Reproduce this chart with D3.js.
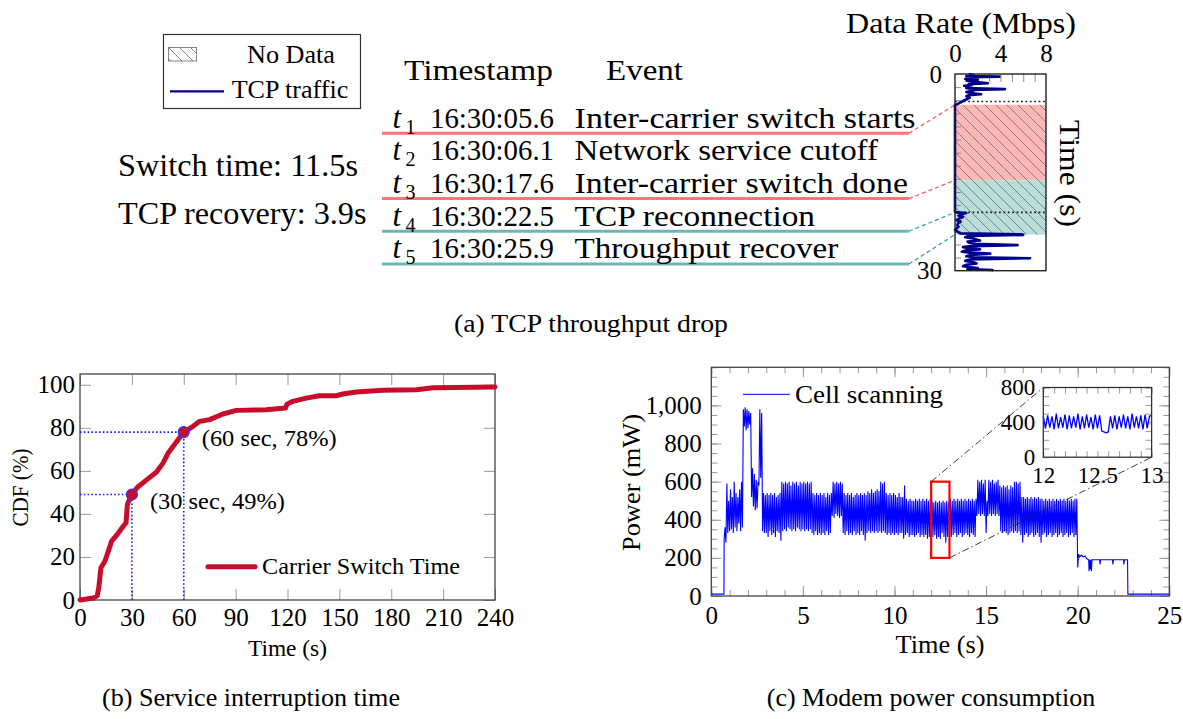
<!DOCTYPE html>
<html>
<head>
<meta charset="utf-8">
<title>Inter-carrier switch measurements</title>
<script src="https://cdn.jsdelivr.net/npm/d3@7/dist/d3.min.js"></script>
<style>
  html, body { margin: 0; padding: 0; background: #ffffff; }
  svg { display: block; }
  text { font-family: "Liberation Serif", "Times New Roman", Times, serif; fill: #000; }
</style>
</head>
<body>
<svg id="figure" width="1183" height="719" viewBox="0 0 1183 719"></svg>
<script>
// ================= (a) TCP throughput drop =================
const eventIndex   = ["1", "2", "3", "4", "5"];
const eventStamps  = ["16:30:05.6", "16:30:06.1", "16:30:17.6", "16:30:22.5", "16:30:25.9"];
const eventSeconds = [5.6, 6.1, 17.6, 22.5, 25.9];          // seconds after 16:30:00
const eventNames   = ["Inter-carrier switch starts", "Network service cutoff",
                      "Inter-carrier switch done", "TCP reconnection", "Throughput recover"];
const summaryLabels = ["Switch time: 11.5s", "TCP recovery: 3.9s"];
const traceOrigin = 1.4;                                      // trace clock starts at 16:30:01.4

// TCP data rate trace: time (s on the trace clock) and rate (Mbps)
const tcpTime = [0.0, 0.15, 0.3, 0.4, 0.5, 0.6, 0.75, 0.9, 1.0, 1.2,
                 1.4, 1.55, 1.7, 1.8, 2.0, 2.15, 2.3, 2.45, 2.6, 2.75,
                 2.9, 3.1, 3.25, 3.4, 3.6, 3.8, 4.0, 4.2, 4.4, 4.6,
                 4.7, 21.0, 21.1, 21.2, 21.4, 21.6, 21.8, 22.0, 22.3, 22.5,
                 22.7, 23.0, 23.3, 23.6, 23.8, 24.0, 24.3, 24.45, 24.55, 24.7,
                 24.9, 25.1, 25.4, 25.55, 25.7, 25.9, 26.1, 26.25, 26.4, 26.6,
                 26.75, 26.9, 27.1, 27.25, 27.4, 27.6, 27.8, 27.95, 28.1, 28.3,
                 28.5, 28.7, 28.9, 29.1, 29.3, 29.45, 29.6, 29.75, 29.9, 30.0];
const tcpRate = [1.2, 1.6, 1.0, 3.9, 1.2, 1.4, 0.9, 2.0, 1.0, 1.7,
                 2.9, 1.2, 1.5, 0.8, 1.3, 1.0, 4.4, 1.3, 1.6, 1.0,
                 1.4, 2.3, 1.2, 1.0, 1.3, 1.1, 0.8, 0.65, 0.4, 0.2,
                 0.0, 0.0, 0.15, 1.0, 0.6, 0.3, 0.7, 0.4, 0.15, 0.5,
                 0.3, 0.2, 0.3, 0.1, 0.0, 0.2, 0.45, 5.9, 6.0, 1.2,
                 0.9, 1.6, 2.2, 1.1, 1.2, 1.8, 5.5, 1.4, 0.7, 1.5,
                 2.2, 1.0, 0.6, 1.3, 3.1, 1.4, 1.0, 1.7, 6.6, 1.3,
                 0.9, 1.6, 1.9, 1.0, 0.7, 1.2, 2.0, 1.1, 3.3, 3.2];
const rateTicks = [0, 4, 8];
const traceTimeTicks = [0, 30];

// ================= (b) Service interruption time =================
const cdfTime    = [0, 7.7, 10, 10.9, 12.1, 14.4, 16.4, 18.3, 21.2, 25.4,
                    26.6, 27.4, 29, 30, 33.1, 38.5, 44.3, 48.1, 51, 54.9,
                    60, 65.4, 69.2, 75, 82.7, 90.4, 107.7, 118.9, 119.7, 123.1,
                    130.8, 138.5, 148.2, 152, 159.8, 175.2, 194.5, 204.1, 240];
const cdfPercent = [0, 0.9, 2, 5.9, 15, 18, 22.7, 27.4, 30.1, 34.7,
                    35.8, 44.3, 47.7, 49, 52.3, 55.8, 59.5, 63.7, 68.3, 72.5,
                    78, 80.7, 83, 83.8, 86.4, 88.1, 88.4, 89.2, 91, 92.3,
                    93.8, 94.9, 94.9, 95.7, 96.6, 97.4, 97.7, 98.6, 99];
const markTime    = [30, 60];
const markPercent = [49, 78];
const markLabels  = ["(30 sec, 49%)", "(60 sec, 78%)"];
const cdfXTicks = [0, 30, 60, 90, 120, 150, 180, 210, 240];
const cdfYTicks = [0, 20, 40, 60, 80, 100];

// ================= (c) Modem power consumption =================
const powerLeadTime  = [0, 0.69];
const powerLeadValue = [10, 10];
const scanStart = 0.70, scanStep = 0.05;   // cell-scanning samples, one every 50 ms
const scanPower = [
  300, 360, 280, 590, 330, 500,
  340, 560, 350, 520, 330, 600, 360, 540, 340, 520, 380, 560, 340, 600, 360, 980, 890, 990, 870, 980,
  880, 970, 900, 960, 520, 670, 470, 640, 450, 610, 460, 600, 580, 980, 620, 960, 340, 540, 330, 530,
  330, 540, 310, 530, 340, 540, 320, 530, 330, 540, 310, 520, 340, 530, 330, 540, 290, 600, 340, 590,
  350, 600, 340, 590, 360, 600, 350, 580, 340, 600, 350, 590, 340, 600, 360, 580, 350, 600, 340, 590,
  350, 600, 340, 590, 350, 600, 340, 590, 350, 600, 330, 540, 320, 530, 340, 540, 320, 530, 330, 540,
  320, 530, 330, 540, 320, 520, 340, 540, 320, 530, 330, 540, 420, 600, 410, 590, 430, 600, 420, 590,
  410, 600, 420, 590, 330, 540, 320, 530, 340, 540, 320, 530, 330, 540, 320, 520, 340, 530, 320, 540,
  330, 530, 320, 540, 340, 530, 320, 540, 290, 530, 330, 550, 340, 540, 330, 560, 340, 540, 330, 550,
  340, 560, 330, 550, 340, 600, 330, 590, 340, 600, 330, 540, 320, 530, 330, 540, 320, 530, 330, 540,
  320, 530, 330, 520, 320, 540, 330, 520, 330, 520, 300, 580, 320, 510, 330, 500, 310, 510, 320, 500,
  320, 500, 310, 510, 320, 500, 330, 510, 310, 500, 320, 510, 310, 500, 320, 510, 300, 500, 310, 510,
  300, 500, 310, 490, 320, 500, 300, 490, 310, 500, 300, 490, 330, 500, 310, 490, 280, 500, 310, 490,
  320, 510, 310, 500, 320, 510, 330, 500, 310, 510, 320, 500, 330, 510, 310, 500, 320, 510, 330, 500,
  320, 510, 310, 500, 330, 510, 320, 500, 310, 510, 420, 610, 430, 600, 420, 610, 430, 590, 420, 610,
  330, 500, 420, 610, 430, 600, 420, 610, 430, 590, 420, 600, 430, 610, 420, 580, 340, 570, 330, 580,
  340, 570, 330, 580, 320, 560, 330, 580, 340, 570, 330, 600, 340, 600, 330, 590, 340, 600, 320, 520,
  280, 520, 320, 510, 330, 520, 310, 510, 320, 520, 330, 510, 310, 520, 320, 510, 330, 520, 310, 510,
  280, 510, 320, 500, 330, 510, 310, 500, 320, 510, 330, 500, 310, 510, 320, 500, 330, 510, 310, 500,
  320, 510, 330, 500, 310, 510, 320, 500, 330, 510, 310, 500, 320, 510, 330, 500, 310, 510, 320, 510
];
const powerTailTime  = [20.00, 20.05, 20.10, 20.20, 20.30, 20.40, 20.50, 20.60, 20.62, 20.65,
                        20.68, 20.72, 20.75, 20.78, 21.20, 21.22, 21.25, 21.90, 21.92, 21.95,
                        22.50, 22.52, 22.55, 22.72, 22.74, 25.00];
const powerTailValue = [150, 220, 205, 215, 205, 210, 195, 190, 130, 190,
                        140, 190, 130, 190, 190, 165, 190, 190, 165, 190,
                        190, 165, 190, 190, 10, 10];
const zoomStart = 12, zoomStep = 0.02;     // detail window 12 s - 13 s, one sample every 20 ms
const zoomPower = [470, 330, 480, 340, 470, 320, 500, 330, 460, 340,
                   490, 320, 480, 330, 470, 340, 500, 320, 470, 330,
                   490, 340, 460, 320, 490, 330, 480, 300, 290, 280,
                   290, 470, 330, 480, 320, 470, 340, 490, 330, 470,
                   320, 500, 340, 470, 330, 480, 320, 490, 330, 470, 480];
const powerXTicks = [0, 5, 10, 15, 20, 25];
const powerYTicks = [0, 200, 400, 600, 800, 1000];
const zoomXTicks = [12, 12.5, 13];
const zoomYTicks = [0, 400, 800];
const zoomBox = {t0: 12, t1: 13, p0: 200, p1: 600};

// ================= helpers =================
const svg = d3.select("#figure");
const defs = svg.append("defs");

const hatch = defs.append("pattern")
  .attr("id", "hatch").attr("patternUnits", "userSpaceOnUse")
  .attr("width", 11).attr("height", 11);
hatch.append("path").attr("d", "M-2,-2L13,13")
  .attr("stroke", "#777").attr("stroke-width", 0.9).attr("fill", "none");

function label(parent, str, x, y, o = {}) {
  const t = parent.append("text").attr("x", x).attr("y", y)
    .attr("font-size", o.size || 24).text(str);
  if (o.anchor) t.attr("text-anchor", o.anchor);
  if (o.width) t.attr("textLength", o.width).attr("lengthAdjust", "spacingAndGlyphs");
  if (o.rotate) t.attr("transform", `rotate(${o.rotate},${x},${y})`);
  if (o.italic) t.attr("font-style", "italic");
  return t;
}

const axisMaker = {top: d3.axisTop, bottom: d3.axisBottom, left: d3.axisLeft, right: d3.axisRight};

function innerTicks(parent, scale, side, offset, values, length, color) {
  const horizontal = side === "top" || side === "bottom";
  const g = parent.append("g")
    .attr("transform", horizontal ? `translate(0,${offset})` : `translate(${offset},0)`)
    .call(axisMaker[side](scale).tickValues(values).tickSize(-length).tickFormat(""));
  g.select(".domain").remove();
  g.selectAll(".tick line").attr("stroke", color).attr("stroke-width", 1);
  return g;
}

function tickLabels(parent, scale, side, offset, values, format, padding, size) {
  const horizontal = side === "top" || side === "bottom";
  const g = parent.append("g")
    .attr("transform", horizontal ? `translate(0,${offset})` : `translate(${offset},0)`)
    .call(axisMaker[side](scale).tickValues(values).tickSize(0).tickPadding(padding).tickFormat(format));
  g.select(".domain").remove();
  g.selectAll(".tick line").remove();
  g.attr("font-family", null).attr("font-size", size);
  g.selectAll(".tick text").attr("fill", "#000");
  return g;
}

function frame(parent, xs, ys, color, width) {
  const [x0, x1] = xs.range(), [y0, y1] = ys.range();
  return parent.append("rect")
    .attr("x", Math.min(x0, x1)).attr("y", Math.min(y0, y1))
    .attr("width", Math.abs(x1 - x0)).attr("height", Math.abs(y1 - y0))
    .attr("fill", "none").attr("stroke", color).attr("stroke-width", width);
}

// ================= panel (a) =================
const gA = svg.append("g");

// legend
gA.append("rect").attr("x", 163.5).attr("y", 34.5).attr("width", 197).attr("height", 74)
  .attr("fill", "#fff").attr("stroke", "#333").attr("stroke-width", 1.2);
gA.append("rect").attr("x", 168.5).attr("y", 47.5).attr("width", 28).attr("height", 13.5)
  .attr("fill", "url(#hatch)").attr("stroke", "#666").attr("stroke-width", 0.8);
gA.append("line").attr("x1", 170).attr("x2", 224).attr("y1", 91.3).attr("y2", 91.3)
  .attr("stroke", "#00008b").attr("stroke-width", 2.2);
label(gA, "No Data", 291, 63.3, {size: 25, anchor: "middle", width: 88});
label(gA, "TCP traffic", 290, 98.3, {size: 25, anchor: "middle", width: 116.6});

// summary on the left
label(gA, summaryLabels[0], 118, 175.7, {size: 31, width: 240});
label(gA, summaryLabels[1], 118, 224, {size: 31, width: 248.5});

// event table
label(gA, "Timestamp", 404, 80, {size: 30, width: 149});
label(gA, "Event", 606, 80, {size: 30, width: 77});

const rowY = d3.scaleLinear().domain([0, 4]).range([127.8, 258.4]);
const eventWidths = [341, 303.4, 333.3, 240.4, 263.6];
const rowColour = ["#ff7474", null, "#ff7474", "#6cb7b2", "#6cb7b2"];
const linkColour = ["#ff4d4d", null, "#ff4d4d", "#2e9e98", "#2e9e98"];
const linkTarget = [1, null, 2, 3, 4];     // boundary each underlined row points to

const xRate = d3.scaleLinear().domain([0, 8]).range([955, 1046]);
const yTrace = d3.scaleLinear().domain([0, 30]).range([74, 270.7]);
const onTrace = s => yTrace(s - traceOrigin);

eventNames.forEach((name, i) => {
  const y = rowY(i);
  if (rowColour[i]) {
    gA.append("line").attr("x1", 382).attr("x2", 909).attr("y1", y + 5.5).attr("y2", y + 5.5)
      .attr("stroke", rowColour[i]).attr("stroke-width", 3);
    gA.append("line").attr("x1", 909).attr("y1", y + 5.5)
      .attr("x2", xRate(0)).attr("y2", onTrace(eventSeconds[linkTarget[i]]))
      .attr("stroke", linkColour[i]).attr("stroke-width", 1.2).attr("stroke-dasharray", "4,3");
  }
  label(gA, "t", 392.5, y, {size: 31, italic: true});
  label(gA, eventIndex[i], 405.5, y + 6, {size: 20});
  label(gA, eventStamps[i], 430, y, {size: 30, width: 124});
  label(gA, name, 574.6, y, {size: 30, width: eventWidths[i]});
});

// rate plot
const plotA = gA.append("g");
plotA.append("rect").attr("x", 955).attr("y", 74).attr("width", 91).attr("height", 196.7).attr("fill", "#fff");
const zones = [
  {from: eventSeconds[1], to: eventSeconds[2], fill: "#ffb7b7"},
  {from: eventSeconds[2], to: eventSeconds[4], fill: "#b9ddd9"}
];
zones.forEach(z => {
  [z.fill, "url(#hatch)"].forEach(f => {
    plotA.append("rect").attr("x", xRate(0)).attr("width", xRate(8) - xRate(0))
      .attr("y", onTrace(z.from)).attr("height", onTrace(z.to) - onTrace(z.from)).attr("fill", f);
  });
});
innerTicks(plotA, xRate, "top", yTrace(0), [1, 2, 3, 4, 5, 6, 7], 8, "#8a8a8a");
innerTicks(plotA, yTrace, "left", xRate(0), d3.range(2, 30, 2), 6, "#8a8a8a");
[eventSeconds[0], eventSeconds[3]].forEach(s => {
  plotA.append("line").attr("x1", xRate(0)).attr("x2", xRate(8))
    .attr("y1", onTrace(s)).attr("y2", onTrace(s))
    .attr("stroke", "#222").attr("stroke-width", 1.6).attr("stroke-dasharray", "1.8,2.6");
});
plotA.append("path")
  .datum(d3.zip(tcpTime, tcpRate))
  .attr("d", d3.line().x(d => xRate(d[1])).y(d => yTrace(d[0])))
  .attr("fill", "none").attr("stroke", "#00008b").attr("stroke-width", 2.6)
  .attr("stroke-linejoin", "round");
frame(plotA, xRate, yTrace, "#222", 1.4);
tickLabels(plotA, xRate, "top", yTrace(0), rateTicks, d3.format("d"), 12.3, 25);
tickLabels(plotA, yTrace, "left", xRate(0), traceTimeTicks, d3.format("d"), 13, 25);
label(gA, "Data Rate (Mbps)", 961, 33, {size: 29, anchor: "middle", width: 230});
label(gA, "Time (s)", 1060, 173.5, {size: 29, anchor: "middle", width: 107, rotate: 90});

label(svg, "(a) TCP throughput drop", 591, 331.5, {size: 26, anchor: "middle", width: 274});

// ================= panel (b) =================
const gB = svg.append("g");
const xCdf = d3.scaleLinear().domain([0, 240]).range([80, 495]);
const yCdf = d3.scaleLinear().domain([0, 105]).range([600, 374]);

innerTicks(gB, xCdf, "bottom", yCdf(0), cdfXTicks, 11, "#9a9a9a");
innerTicks(gB, xCdf, "top", yCdf(105), cdfXTicks, 11, "#9a9a9a");
innerTicks(gB, yCdf, "left", xCdf(0), cdfYTicks, 11, "#9a9a9a");
innerTicks(gB, yCdf, "right", xCdf(240), cdfYTicks, 11, "#9a9a9a");
frame(gB, xCdf, yCdf, "#444", 1.3);

markTime.forEach((t, i) => {
  const p = markPercent[i];
  gB.append("path")
    .attr("d", `M${xCdf(0)},${yCdf(p)}H${xCdf(t)}M${xCdf(t)},${yCdf(0)}V${yCdf(p)}`)
    .attr("fill", "none").attr("stroke", "#1a1aff").attr("stroke-width", 1.6)
    .attr("stroke-dasharray", "1.6,2.2");
});
gB.append("path")
  .datum(d3.zip(cdfTime, cdfPercent))
  .attr("d", d3.line().x(d => xCdf(d[0])).y(d => yCdf(d[1])))
  .attr("fill", "none").attr("stroke", "#c80c2c").attr("stroke-width", 5)
  .attr("stroke-linejoin", "round").attr("stroke-linecap", "round");
gB.selectAll("circle.mark").data(d3.zip(markTime, markPercent)).join("circle")
  .attr("class", "mark")
  .attr("cx", d => xCdf(d[0])).attr("cy", d => yCdf(d[1])).attr("r", 5.5)
  .attr("fill", "#c80c2c").attr("stroke", "#3535ff").attr("stroke-width", 1.2);
markLabels.forEach((s, i) => {
  label(gB, s, xCdf(markTime[i]) + 18, yCdf(markPercent[i]) + 14, {size: 24, width: 135});
});

gB.append("line").attr("x1", 208).attr("x2", 255).attr("y1", 566.7).attr("y2", 566.7)
  .attr("stroke", "#c80c2c").attr("stroke-width", 5).attr("stroke-linecap", "round");
label(gB, "Carrier Switch Time", 262, 574, {size: 24, width: 198});

tickLabels(gB, xCdf, "bottom", yCdf(0), cdfXTicks, d3.format("d"), 8, 25);
tickLabels(gB, yCdf, "left", xCdf(0), cdfYTicks, d3.format("d"), 5, 25);
label(gB, "Time (s)", 287.5, 655.5, {size: 24, anchor: "middle", width: 79});
label(gB, "CDF (%)", 28, 487.5, {size: 24, anchor: "middle", width: 78, rotate: -90});
label(svg, "(b) Service interruption time", 251, 706, {size: 26, anchor: "middle", width: 298});

// ================= panel (c) =================
const gC = svg.append("g");
const xPow = d3.scaleLinear().domain([0, 25]).range([711.3, 1169.3]);
const yPow = d3.scaleLinear().domain([0, 1200]).range([596, 367.3]);

innerTicks(gC, xPow, "bottom", yPow(0), d3.range(0, 26, 1), 6, "#9a9a9a");
innerTicks(gC, xPow, "top", yPow(1200), d3.range(0, 26, 1), 6, "#9a9a9a");
innerTicks(gC, xPow, "bottom", yPow(0), powerXTicks, 10, "#9a9a9a");
innerTicks(gC, xPow, "top", yPow(1200), powerXTicks, 10, "#9a9a9a");
innerTicks(gC, yPow, "left", xPow(0), d3.range(0, 1201, 50), 6, "#9a9a9a");
innerTicks(gC, yPow, "right", xPow(25), d3.range(0, 1201, 50), 6, "#9a9a9a");
innerTicks(gC, yPow, "left", xPow(0), powerYTicks, 10, "#9a9a9a");
innerTicks(gC, yPow, "right", xPow(25), powerYTicks, 10, "#9a9a9a");

const powerSeries = [
  ...d3.zip(powerLeadTime, powerLeadValue),
  ...scanPower.map((v, i) => [scanStart + i * scanStep, v]),
  ...d3.zip(powerTailTime, powerTailValue)
];
gC.append("path")
  .datum(powerSeries)
  .attr("d", d3.line().x(d => xPow(d[0])).y(d => yPow(d[1])))
  .attr("fill", "none").attr("stroke", "#0000ff").attr("stroke-width", 1.1)
  .attr("stroke-linejoin", "miter");

// highlighted window and its links to the detail view
gC.append("rect")
  .attr("x", xPow(zoomBox.t0)).attr("y", yPow(zoomBox.p1))
  .attr("width", xPow(zoomBox.t1) - xPow(zoomBox.t0))
  .attr("height", yPow(zoomBox.p0) - yPow(zoomBox.p1))
  .attr("fill", "none").attr("stroke", "#ff0000").attr("stroke-width", 2.2);

const xZoom = d3.scaleLinear().domain([12, 13]).range([1043.3, 1151.6]);
const yZoom = d3.scaleLinear().domain([0, 800]).range([457.2, 387.5]);

[[zoomBox.t0, zoomBox.p1, 12, 800], [zoomBox.t1, zoomBox.p0, 13, 0]].forEach(([t, p, zt, zp]) => {
  gC.append("line")
    .attr("x1", xPow(t)).attr("y1", yPow(p)).attr("x2", xZoom(zt)).attr("y2", yZoom(zp))
    .attr("stroke", "#222").attr("stroke-width", 0.9).attr("stroke-dasharray", "7,3,1.5,3");
});

frame(gC, xPow, yPow, "#444", 1.3);

// detail view
const gZ = gC.append("g");
gZ.append("rect").attr("x", xZoom(12)).attr("y", yZoom(800))
  .attr("width", xZoom(13) - xZoom(12)).attr("height", yZoom(0) - yZoom(800)).attr("fill", "#fff");
innerTicks(gZ, xZoom, "bottom", yZoom(0), d3.range(12, 13.01, 0.1), 6, "#9a9a9a");
innerTicks(gZ, xZoom, "top", yZoom(800), d3.range(12, 13.01, 0.1), 6, "#9a9a9a");
innerTicks(gZ, yZoom, "left", xZoom(12), d3.range(0, 801, 100), 6, "#9a9a9a");
innerTicks(gZ, yZoom, "right", xZoom(13), d3.range(0, 801, 100), 6, "#9a9a9a");
gZ.append("path")
  .datum(zoomPower.map((v, i) => [zoomStart + i * zoomStep, v]))
  .attr("d", d3.line().x(d => xZoom(d[0])).y(d => yZoom(d[1])))
  .attr("fill", "none").attr("stroke", "#0000ff").attr("stroke-width", 1.3);
frame(gZ, xZoom, yZoom, "#333", 1.3);
tickLabels(gZ, xZoom, "bottom", yZoom(0), zoomXTicks, d3.format(""), 9, 23);
tickLabels(gZ, yZoom, "left", xZoom(12), zoomYTicks, d3.format("d"), 8, 23);

// legend
gC.append("line").attr("x1", 743).attr("x2", 790).attr("y1", 394.3).attr("y2", 394.3)
  .attr("stroke", "#0000ff").attr("stroke-width", 1);
label(gC, "Cell scanning", 795, 402.7, {size: 26, width: 148});

tickLabels(gC, xPow, "bottom", yPow(0), powerXTicks, d3.format("d"), 10, 25);
tickLabels(gC, yPow, "left", xPow(0), powerYTicks, d3.format(","), 9.5, 25);
label(gC, "Time (s)", 940, 653, {size: 26, anchor: "middle", width: 89});
label(gC, "Power (mW)", 640, 482.5, {size: 26, anchor: "middle", width: 137, rotate: -90});
label(svg, "(c) Modem power consumption", 931, 706, {size: 26, anchor: "middle"});
</script>
</body>
</html>
